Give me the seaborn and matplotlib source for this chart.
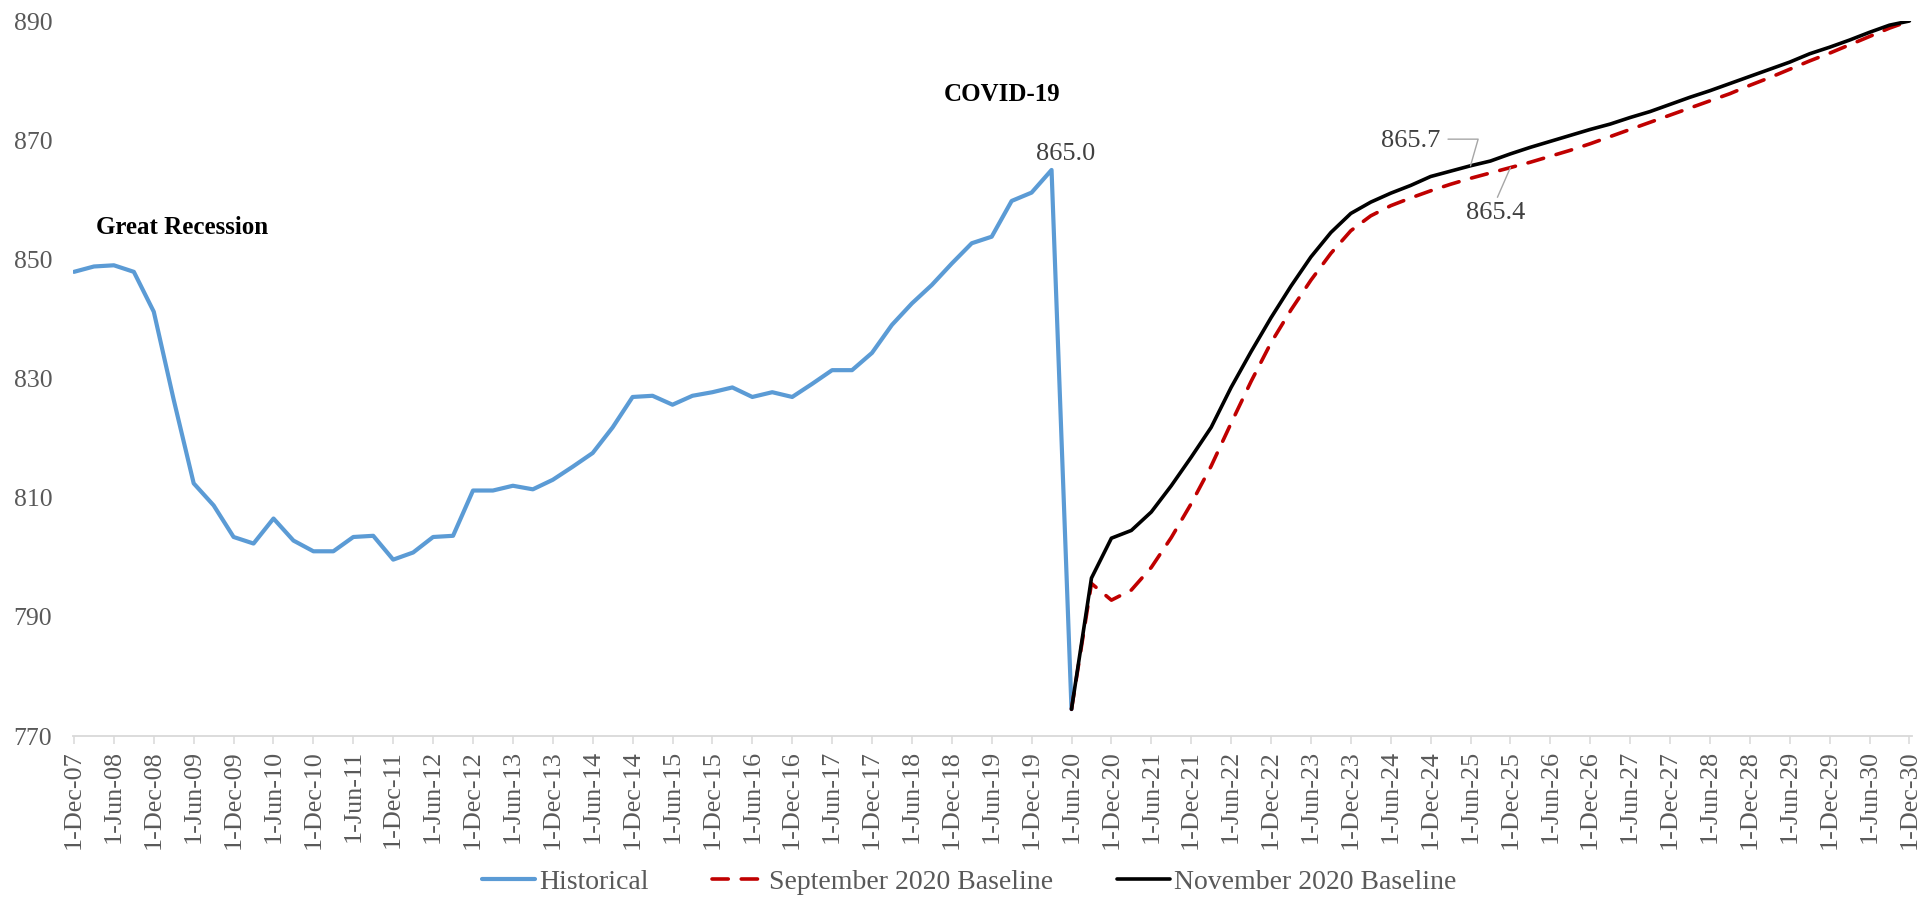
import numpy as np
import pandas as pd
import matplotlib
matplotlib.use("Agg")
import matplotlib.pyplot as plt
import seaborn as sns

# ---------------- data ----------------
quarters = pd.date_range("2007-12-01", "2030-12-01", freq="QS-DEC")
quarter_labels = [f"1-{d:%b-%y}" for d in quarters]

historical = [
    847.9, 848.8, 849.0, 847.9, 841.2, 826.4, 812.4, 808.7, 803.4, 802.3,
    806.5, 802.8, 801.0, 801.0, 803.4, 803.6, 799.6, 800.8, 803.4, 803.6,
    811.2, 811.2, 812.0, 811.4, 813.0, 815.2, 817.5, 821.8, 826.9, 827.1,
    825.6, 827.1, 827.7, 828.5, 826.9, 827.7, 826.9, 829.1, 831.4, 831.4,
    834.3, 839.0, 842.6, 845.7, 849.3, 852.7, 853.8, 859.8, 861.2, 865.0,
    774.5,
]
sep_2020 = [
    774.5, 795.6, 792.8, 794.5, 798.3, 803.3, 809.0, 815.3, 822.5, 829.5,
    836.0, 841.5, 846.5, 851.0, 854.8, 857.3, 859.0, 860.3, 861.5, 862.6,
    863.6, 864.5, 865.4, 866.3, 867.3, 868.3, 869.4, 870.6, 871.8, 873.0,
    874.2, 875.4, 876.6, 877.8, 879.2, 880.5, 881.9, 883.3, 884.6, 886.0,
    887.4, 888.8, 890.0,
]
nov_2020 = [
    774.5, 796.5, 803.2, 804.5, 807.6, 812.0, 816.8, 821.8, 828.5, 834.5,
    840.2, 845.5, 850.4, 854.5, 857.7, 859.6, 861.1, 862.4, 863.9, 864.8,
    865.7, 866.5, 867.7, 868.8, 869.8, 870.8, 871.8, 872.7, 873.8, 874.8,
    876.0, 877.2, 878.3, 879.5, 880.7, 881.9, 883.1, 884.5, 885.6, 886.8,
    888.1, 889.3, 890.0,
]
series_names = ["Historical", "September 2020 Baseline", "November 2020 Baseline"]
y_ticks = [770, 790, 810, 830, 850, 870, 890]

# ---------------- frame ----------------
n_hist = len(historical)
hist_df = pd.DataFrame({"q": np.arange(n_hist), "value": historical})
fc_start = n_hist - 1
sep_df = pd.DataFrame({"q": np.arange(fc_start, fc_start + len(sep_2020)), "value": sep_2020})
nov_df = pd.DataFrame({"q": np.arange(fc_start, fc_start + len(nov_2020)), "value": nov_2020})

sns.set_theme(style="white")
plt.rcParams["font.family"] = ["Liberation Serif", "DejaVu Serif"]

fig = plt.figure(figsize=(19.31, 9.06), dpi=100)
ax = fig.add_axes([73 / 1931, 1 - 736 / 906, (1912 - 73) / 1931, (736 - 21) / 906])

BLUE = "#5B9BD5"
RED = "#C00000"
sns.lineplot(data=hist_df, x="q", y="value", ax=ax, color=BLUE, linewidth=3.0,
             label=series_names[0], solid_capstyle="round", solid_joinstyle="round")
sns.lineplot(data=sep_df, x="q", y="value", ax=ax, color=RED, linewidth=2.6,
             label=series_names[1], linestyle=(0, (4.5, 3.6)), dash_capstyle="round")
sns.lineplot(data=nov_df, x="q", y="value", ax=ax, color="black", linewidth=2.6,
             label=series_names[2], solid_joinstyle="round")

ax.set_xlim(-0.05, 92.13)
ax.set_ylim(770, 890)
ax.set_yticks(y_ticks)
ax.set_yticklabels([str(v) for v in y_ticks])
tick_pos = np.arange(0, len(quarters), 2)
ax.set_xticks(tick_pos)
ax.set_xticklabels([quarter_labels[i] for i in tick_pos], rotation=90)
ax.set_xlabel("")
ax.set_ylabel("")

for s in ["top", "right", "left"]:
    ax.spines[s].set_visible(False)
ax.spines["bottom"].set_color("#D9D9D9")
ax.spines["bottom"].set_linewidth(1.3)
ax.tick_params(axis="x", colors="#595959", length=6, width=1.1, direction="out",
               labelsize=18.8, pad=4, bottom=True)
ax.tick_params(axis="x", color="#D9D9D9")
ax.tick_params(axis="y", colors="#595959", length=0, labelsize=18.5, pad=15)
ax.grid(False)

# ---------------- annotations ----------------
ax.text(1.1, 855.3, "Great Recession", fontsize=18, fontweight="bold",
        color="black", ha="left", va="center")
ax.text(46.5, 877.6, "COVID-19", fontsize=18, fontweight="bold",
        color="black", ha="center", va="center")
peak_i = int(np.argmax(historical))
ax.annotate(f"{historical[peak_i]:.1f}", xy=(peak_i, historical[peak_i]),
            xytext=(peak_i + 0.7, historical[peak_i] + 2.7), textcoords="data",
            fontsize=19, color="#404040", ha="center", va="center")

pre_peak = historical[peak_i]
nov_i = next(i for i, v in enumerate(nov_2020) if v > pre_peak)
sep_i = next(i for i, v in enumerate(sep_2020) if v > pre_peak)
ax.annotate(f"{nov_2020[nov_i]:.1f}", xy=(fc_start + nov_i, nov_2020[nov_i]),
            xytext=(fc_start + nov_i - 1.5, nov_2020[nov_i] + 4.1), textcoords="data",
            fontsize=19, color="#404040", ha="right", va="center",
            arrowprops=dict(arrowstyle="-", color="#A6A6A6", lw=1.0, shrinkA=3, shrinkB=0,
                            relpos=(1.0, 0.6),
                            connectionstyle="angle,angleA=0,angleB=74,rad=0"))
ax.annotate(f"{sep_2020[sep_i]:.1f}", xy=(fc_start + sep_i, sep_2020[sep_i]),
            xytext=(fc_start + sep_i - 0.75, sep_2020[sep_i] - 7.6), textcoords="data",
            fontsize=19, color="#404040", ha="center", va="center",
            arrowprops=dict(arrowstyle="-", color="#A6A6A6", lw=1.0, shrinkA=1, shrinkB=0,
                            relpos=(0.5, 1.0)))

# ---------------- legend ----------------
handles, labels = ax.get_legend_handles_labels()
ax.legend_.remove()
fig.legend(handles, labels, loc="lower center", bbox_to_anchor=(0.502, -0.009),
           ncol=3, frameon=False, fontsize=20, handlelength=1.9, handletextpad=0.15,
           columnspacing=2.3, labelcolor="#595959", borderpad=0.2)

fig.savefig("out.png", dpi=100)
